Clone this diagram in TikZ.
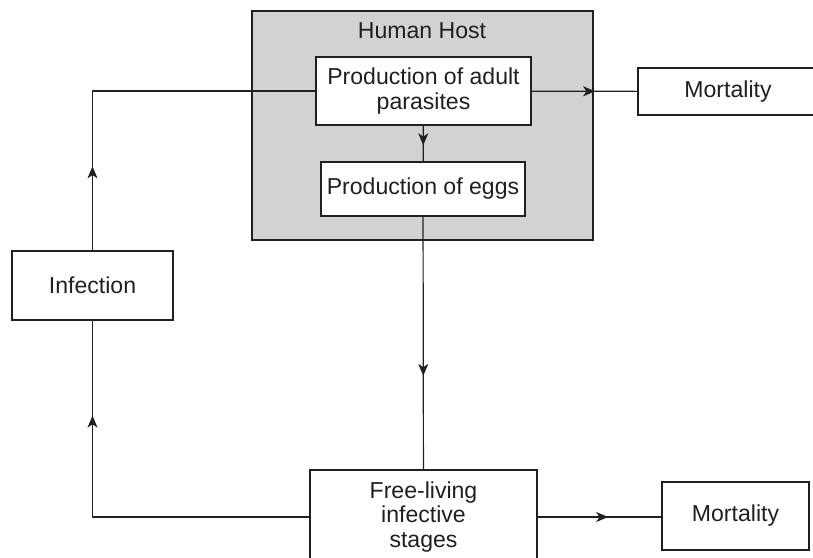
\documentclass[tikz,border=0pt]{standalone}
\usepackage{fontspec}
\setmainfont{Liberation Sans}
\usepackage{tikz}
\usetikzlibrary{arrows.meta,decorations.markings,calc}
\definecolor{grishote}{RGB}{209,210,212}
\definecolor{encre}{RGB}{35,31,32}

\begin{document}
\begin{tikzpicture}[x=0.75pt,y=-0.75pt]
\tikzstyle{boite}=[draw=encre,line width=0.8pt,fill=white,inner sep=0pt,align=center,text=encre,font=\fontsize{17.3}{18.2}\selectfont]
\tikzstyle{hote}=[boite,fill=grishote]
\tikzset{fleche/.style={draw=encre,line width=0.9pt,postaction={decorate},
  decoration={markings,mark=at position #1 with {\arrow{Stealth[length=9pt,width=7.5pt,inset=2.5pt]}}}}}
\useasboundingbox (0,0) rectangle (813,557);
\clip (0,0) rectangle (813,557);
% boites
\node[hote,minimum width=255.75pt,minimum height=171.75pt] (H) at (422.5,125.5) {};
\node[text=encre,font=\fontsize{17.3}{18.2}\selectfont] (Htitre) at (422,31) {Human Host};
\node[boite,minimum width=161.25pt,minimum height=51pt] (Adultes) at (423.5,91) {Production of adult\\parasites};
\node[boite,minimum width=153pt,minimum height=40.5pt] (Oeufs) at (423,189) {Production of eggs};
\node[boite,minimum width=135pt,minimum height=35.25pt] (MortA) at (728,91.5) {Mortality};
\node[boite,minimum width=120.75pt,minimum height=51.75pt] (Infection) at (92.5,285.5) {Infection};
\node[boite,minimum width=170.25pt,minimum height=70.5pt] (Libres) at (423.5,517) {Free-living\\infective\\stages};
\node[boite,minimum width=110.25pt,minimum height=51pt] (MortB) at (735.5,516) {Mortality};
% fleches
\draw[fleche=0.55] (Adultes)--(Oeufs);
\draw[fleche=0.63] (Oeufs)--(Libres);
\draw[fleche=0.6] (Adultes)--(MortA);
\draw[fleche=0.57] (Libres.east)--(Libres.east -| MortB.west);
\draw[fleche=0.77] (Libres.west)-|(Infection.south);
\draw[fleche=0.22] (Infection.north)|-(Adultes.west);
\end{tikzpicture}
\end{document}
